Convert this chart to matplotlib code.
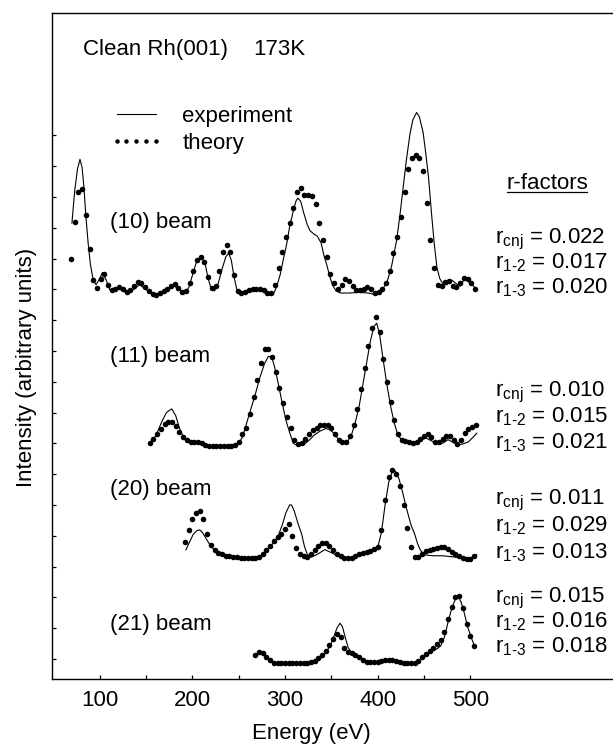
import numpy as np
import matplotlib
matplotlib.use('Agg')
import matplotlib.pyplot as plt
from matplotlib.lines import Line2D

plt.rcParams['font.family'] = ['Liberation Sans', 'DejaVu Sans']
plt.rcParams['mathtext.fontset'] = 'custom'
plt.rcParams['mathtext.rm'] = 'Liberation Sans'

# theory curves, sampled every 4 eV
e_th10 = np.arange(69, 506, 4)
th10 = [13.0, 14.2, 15.17, 15.25, 14.4, 13.3, 12.3, 12.05, 12.35, 12.5,
        12.15, 11.98, 12.02, 12.08, 12.0, 11.9, 11.98, 12.1, 12.25, 12.22,
        12.08, 11.95, 11.86, 11.82, 11.88, 11.95, 12.02, 12.12, 12.18, 12.05,
        11.9, 11.95, 12.2, 12.6, 12.95, 13.05, 12.9, 12.4, 12.05, 12.1,
        12.6, 13.2, 13.44, 13.2, 12.45, 11.95, 11.88, 11.92, 11.97, 12.0,
        12.0, 12.02, 11.97, 11.88, 11.88, 12.15, 12.7, 13.2, 13.7, 14.14,
        14.63, 15.17, 15.28, 15.05, 15.07, 15.03, 14.78, 14.15, 13.6, 13.05,
        12.5, 12.2, 12.0, 12.15, 12.33, 12.28, 12.12, 11.98, 11.97, 12.02,
        12.08, 12.02, 11.88, 11.9, 12.02, 12.22, 12.6, 13.17, 13.7, 14.35,
        15.15, 15.9, 16.25, 16.36, 16.25, 15.85, 14.8, 13.6, 12.7, 12.15,
        12.12, 12.25, 12.28, 12.12, 12.06, 12.2, 12.38, 12.35, 12.2, 12.02]

e_th11 = np.arange(154, 507, 4)
th11 = [7.0, 7.15, 7.3, 7.48, 7.62, 7.7, 7.68, 7.57, 7.38, 7.22,
        7.1, 7.03, 7.03, 7.05, 7.0, 6.95, 6.92, 6.92, 6.92, 6.92,
        6.92, 6.92, 6.92, 6.95, 7.05, 7.3, 7.5, 7.95, 8.5, 9.05,
        9.6, 10.05, 10.05, 9.8, 9.3, 8.8, 8.3, 7.85, 7.5, 7.1,
        6.98, 7.02, 7.15, 7.3, 7.42, 7.5, 7.58, 7.6, 7.6, 7.5,
        7.3, 7.12, 7.05, 7.05, 7.25, 7.6, 8.1, 8.75, 9.45, 10.15,
        10.75, 11.1, 10.6, 9.75, 9.0, 8.35, 7.75, 7.3, 7.12, 7.08,
        7.05, 7.02, 7.05, 7.15, 7.25, 7.3, 7.2, 7.05, 7.05, 7.15,
        7.25, 7.25, 7.1, 6.98, 7.1, 7.35, 7.45, 7.52, 7.6]

e_th20 = np.arange(192, 505, 4)
th20 = [3.81, 4.2, 4.55, 4.75, 4.81, 4.55, 4.05, 3.7, 3.55, 3.45,
        3.4, 3.35, 3.33, 3.31, 3.3, 3.28, 3.27, 3.27, 3.28, 3.29,
        3.3, 3.4, 3.54, 3.68, 3.82, 3.95, 4.05, 4.22, 4.38, 4.0,
        3.6, 3.42, 3.33, 3.32, 3.42, 3.55, 3.68, 3.76, 3.77, 3.68,
        3.55, 3.42, 3.33, 3.28, 3.27, 3.28, 3.33, 3.4, 3.45, 3.48,
        3.5, 3.58, 3.65, 4.2, 5.15, 5.9, 6.13, 6.0, 5.6, 5.0,
        4.25, 3.65, 3.3, 3.3, 3.4, 3.5, 3.55, 3.58, 3.6, 3.63,
        3.65, 3.58, 3.48, 3.4, 3.33, 3.28, 3.25, 3.26, 3.33]

e_th21 = np.arange(268, 505, 4)
th21 = [0.13, 0.22, 0.2, 0.08, -0.04, -0.12, -0.14, -0.14, -0.14, -0.14,
        -0.14, -0.14, -0.14, -0.14, -0.13, -0.1, -0.05, 0.02, 0.12, 0.26,
        0.45, 0.65, 0.82, 0.7, 0.35, 0.22, 0.19, 0.12, 0.05, -0.03,
        -0.09, -0.1, -0.1, -0.09, -0.07, -0.04, -0.03, -0.04, -0.07, -0.1,
        -0.12, -0.14, -0.14, -0.12, -0.06, 0.05, 0.17, 0.27, 0.36, 0.47,
        0.6, 0.88, 1.3, 1.7, 2.0, 2.03, 1.65, 1.15, 0.75, 0.42]

# experimental curves
e_ex10 = [70, 73, 76, 78.7, 81, 83, 85, 87.5, 90, 93, 96, 100, 103, 107, 111,
          116, 120, 125, 130, 136, 143, 150, 156, 161, 170, 177, 181, 186, 191,
          196, 200, 204, 208, 211, 214, 217, 220, 224, 228, 232, 236, 239, 242,
          245, 248, 251, 256, 262, 268, 273, 278, 284, 288, 291, 295, 298, 302,
          305, 309, 312, 314, 317, 320, 324, 327, 331, 335, 339, 342, 345, 348,
          351, 355, 360, 370, 380, 390, 398, 404, 410, 415, 420.5, 424, 427.5,
          431, 435, 438, 442, 445, 449, 452, 455, 458, 461, 464, 467, 470, 475,
          480, 484, 489, 494, 500, 507]
ex10 = [14.15, 15.2, 15.9, 16.22, 15.95, 15.3, 14.4, 13.5, 12.8, 12.3, 12.15,
        12.35, 12.55, 12.3, 11.98, 11.95, 12.02, 11.95, 11.86, 11.98, 12.15,
        12.0, 11.85, 11.8, 11.9, 12.05, 12.1, 11.98, 11.85, 12.05, 12.45,
        12.85, 13.0, 12.98, 12.8, 12.35, 12.05, 11.95, 12.2, 12.65, 13.05,
        13.17, 12.95, 12.4, 12.0, 11.88, 11.88, 11.92, 11.95, 11.98, 11.9,
        11.8, 11.88, 12.09, 12.5, 12.95, 13.5, 14.04, 14.55, 14.88, 14.96,
        14.85, 14.5, 14.1, 13.9, 13.8, 13.72, 13.5, 13.1, 12.8, 12.45, 12.15,
        11.95, 11.88, 11.88, 11.9, 11.88, 11.82, 11.95, 12.22, 12.75, 13.6,
        14.4, 15.3, 16.2, 17.07, 17.5, 17.74, 17.6, 17.1, 16.4, 15.6, 14.5,
        13.5, 12.7, 12.35, 12.2, 12.15, 12.3, 12.2, 12.1, 12.35, 12.2, 12.0]

e_ex11 = [157, 162, 167, 172, 177.7, 182, 186, 190, 195, 200, 205, 208, 214,
          244, 250, 254, 258, 263, 268, 273, 278, 282, 285.5, 289, 293, 297,
          301, 305, 309, 314, 320, 326, 332, 338, 344, 348, 352, 356, 360, 366,
          372, 376, 380, 384, 388, 392, 396, 399, 402, 406, 410, 414, 418, 422,
          428, 436, 444, 452, 458, 464, 470, 476, 482, 487, 492, 498, 503, 507]
ex11 = [7.05, 7.35, 7.7, 8.0, 8.12, 7.9, 7.5, 7.22, 7.05, 7.0, 7.02, 7.02,
        6.92, 6.9, 7.0, 7.2, 7.6, 8.1, 8.6, 9.15, 9.6, 9.82, 9.82, 9.45, 8.9,
        8.3, 7.75, 7.35, 7.0, 6.92, 6.95, 7.1, 7.28, 7.4, 7.48, 7.45, 7.35,
        7.2, 7.02, 6.98, 7.3, 7.7, 8.2, 8.9, 9.6, 10.3, 10.8, 10.9, 10.55,
        9.7, 8.9, 8.2, 7.65, 7.25, 7.05, 7.0, 7.05, 7.18, 7.08, 6.98, 7.0,
        7.12, 7.02, 6.95, 6.98, 7.05, 7.2, 7.33]

e_ex20 = [193, 197, 201, 205, 208, 211, 214, 218, 222, 228, 240, 260, 272, 280,
          287, 292, 297, 301, 305, 307, 310, 314, 318, 321, 324, 328, 335, 343,
          350, 358, 370, 380, 388, 396, 400, 404, 408, 412, 416, 419, 423, 427,
          431, 436, 440, 443, 446, 450, 460, 470, 480, 490, 497, 503, 507]
ex20 = [3.54, 3.8, 4.05, 4.17, 4.19, 4.1, 3.95, 3.75, 3.6, 3.45, 3.33, 3.27,
        3.3, 3.52, 3.75, 3.95, 4.35, 4.75, 5.0, 5.0, 4.8, 4.4, 4.05, 3.65, 3.4,
        3.3, 3.4, 3.55, 3.45, 3.33, 3.27, 3.38, 3.47, 3.52, 3.62, 4.1, 5.0,
        5.75, 6.1, 6.1, 5.85, 5.4, 4.9, 4.35, 4.05, 3.75, 3.54, 3.38, 3.35,
        3.35, 3.32, 3.28, 3.25, 3.3, 3.38]

e_ex21 = [268, 273, 278, 283, 288, 300, 320, 330, 338, 344, 349, 353, 356,
          359.4, 362, 365, 368, 372, 378, 388, 400, 413, 425, 438, 446, 452,
          458, 464, 468, 472, 476, 480, 484, 487, 490, 493, 497, 501, 505]
ex21 = [0.1, 0.24, 0.14, 0.0, -0.12, -0.15, -0.15, -0.12, 0.0, 0.2, 0.45, 0.75,
        1.0, 1.16, 1.05, 0.7, 0.38, 0.2, 0.1, -0.09, -0.1, -0.03, -0.1, -0.14,
        -0.05, 0.12, 0.25, 0.33, 0.42, 0.7, 1.2, 1.65, 1.95, 2.03, 1.85, 1.55,
        1.05, 0.7, 0.38]

beams = ['(10) beam', '(11) beam', '(20) beam', '(21) beam']
r_cnj = ['0.022', '0.010', '0.011', '0.015']
r_12 = ['0.017', '0.015', '0.029', '0.016']
r_13 = ['0.020', '0.021', '0.013', '0.018']

theory = [(e_th10, th10), (e_th11, th11), (e_th20, th20), (e_th21, th21)]
experiment = [(e_ex10, ex10), (e_ex11, ex11), (e_ex20, ex20), (e_ex21, ex21)]
for e, v in theory:
    assert len(e) == len(v), (len(e), len(v))
for e, v in experiment:
    assert len(e) == len(v), (len(e), len(v))

W, H = 613, 746
fig = plt.figure(figsize=(W / 100, H / 100), dpi=100)
ax = fig.add_axes([52 / W, 1 - 679 / H, 1 - 52 / W, (679 - 13) / H])

fs = 16
for e, v in experiment:
    exp_line, = ax.plot(e, v, color='black', lw=0.8)
for e, v in theory:
    th_line, = ax.plot(e, v, ls='none', marker='o', ms=4.0, color='black',
                       mec='black', mew=0)

ax.set_xlim(48.5, 654)
ax.set_ylim(-0.65, 20.97)
ax.set_xticks([100, 200, 300, 400, 500])
ax.set_xticks([150, 250, 350, 450], minor=True)
ax.set_yticks(np.arange(0, 18))
ax.set_yticklabels([])
ax.tick_params(which='both', direction='in', length=3, width=0.9,
               labelsize=fs, pad=8)
ax.spines['right'].set_visible(False)
for s in ['left', 'top', 'bottom']:
    ax.spines[s].set_linewidth(1.0)

leg = ax.legend([exp_line, th_line], ['experiment', 'theory'], numpoints=5,
                frameon=False, fontsize=fs, handlelength=2.35,
                handletextpad=0.9, labelspacing=0.25, borderpad=0,
                borderaxespad=0, markerscale=0.8,
                loc='upper left', bbox_to_anchor=(110 / W, 1 - 106 / H),
                bbox_transform=fig.transFigure)

def ftext(x, y, s, size=fs, **kw):
    fig.text(x / W, 1 - y / H, s, fontsize=size, va='baseline', **kw)

ftext(83, 55, 'Clean Rh(001)')
ftext(253, 55, '173K')

beam_y = [228, 362, 495, 630]
for name, y in zip(beams, beam_y):
    ftext(110, y, name)

ftext(507, 189, 'r-factors')
fig.add_artist(Line2D([507 / W, 587 / W], [1 - 192 / H, 1 - 192 / H],
                      color='black', lw=0.9))

hy = '\u2010'
r_y = [243, 396, 504, 602]
r_dy = [25, 26, 27, 25]
for y, dy, a, b, c in zip(r_y, r_dy, r_cnj, r_12, r_13):
    ftext(495, y, r'r$_{\mathrm{cnj}}$ = ' + a)
    ftext(495, y + dy, r'r$_{\mathrm{1' + hy + r'2}}$ = ' + b)
    ftext(495, y + 2 * dy, r'r$_{\mathrm{1' + hy + r'3}}$ = ' + c)

fig.text(311 / W, 1 - 739 / H, 'Energy (eV)', fontsize=fs, ha='center',
         va='baseline')
fig.text(27 / W, 1 - 367 / H, 'Intensity (arbitrary units)', fontsize=fs,
         rotation=90, ha='center', va='center')

fig.savefig('out.png', dpi=100)
